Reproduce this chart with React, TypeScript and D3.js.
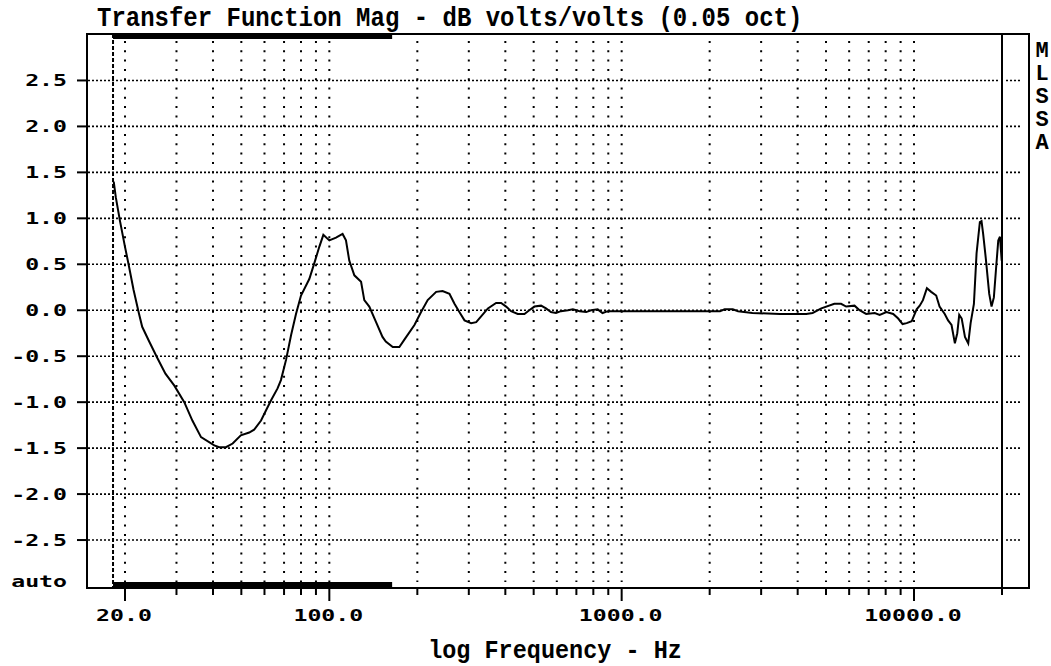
import React, { useEffect, useRef } from "react";
import * as d3 from "d3";

// curve points (Hz, dB)
const freqs = [
  18.3, 18.6, 19.2, 20.0, 20.6, 21.4, 22.3, 22.9, 24.2, 25.8, 27.5, 29.5, 31.9, 34.0, 36.4, 40.4,
  42.0, 44.3, 46.7, 49.8, 53.2, 55.3, 58.4, 60.7, 63.2, 66.5, 68.3, 71.1, 74.0, 76.9, 80.0, 85.4,
  88.8, 92.4, 95.4, 100, 105.4, 111, 114, 117, 121.8, 128.4, 131.7, 137, 144.5, 152, 156, 164.8,
  173.6, 180.6, 195.5, 206, 217, 232, 244, 257.6, 268, 278.5, 290, 305.5, 318, 330, 348.7, 372,
  387, 402.5, 418.6, 441, 465, 483, 503, 530, 551, 573, 596, 620, 655, 681, 718, 756, 786, 828,
  860, 897, 2170, 2250, 2400, 2500, 2800, 3480, 3900, 4280, 4500, 4820, 5340, 5630, 5860, 6260,
  6510, 6860, 7340, 7630, 8050, 8490, 8830, 9140, 9440, 9820, 10210, 10460, 10730, 11070, 11450,
  11910, 12230, 12740, 13080, 13440, 13800, 14060, 14280, 14560, 14940, 15330, 15620, 16030,
  16370, 16800, 17020, 17240, 17610, 18080, 18420, 18760, 19060, 19420, 19680, 19950,
];
const mags = [
  1.4, 1.23, 0.98, 0.69, 0.49, 0.22, -0.03, -0.18, -0.34, -0.52, -0.69, -0.82, -1.0, -1.2, -1.38, -1.47,
  -1.49, -1.49, -1.45, -1.36, -1.33, -1.3, -1.2, -1.09, -0.98, -0.85, -0.76, -0.54, -0.27, -0.04, 0.16, 0.34,
  0.51, 0.69, 0.82, 0.76, 0.79, 0.83, 0.76, 0.54, 0.38, 0.31, 0.11, 0.04, -0.13, -0.29, -0.34, -0.4,
  -0.4, -0.32, -0.16, -0.02, 0.11, 0.2, 0.21, 0.18, 0.07, -0.02, -0.11, -0.14, -0.13, -0.07, 0.02, 0.08,
  0.08, 0.04, -0.01, -0.04, -0.04, 0.0, 0.04, 0.05, 0.02, -0.02, -0.03, -0.01, 0.0, 0.01, -0.01, -0.02, 0.0, 0.01,
  -0.03, -0.01, -0.01, 0.01, 0.01, -0.01, -0.03, -0.04, -0.04, -0.04, -0.03, 0.02, 0.07, 0.07, 0.04, 0.05,
  0.0, -0.04, -0.03, -0.05, -0.02, -0.04, -0.09, -0.15, -0.14, -0.12, 0.01, 0.05, 0.11, 0.24, 0.2,
  0.16, 0.04, -0.04, -0.11, -0.16, -0.36, -0.25, -0.05, -0.09, -0.29, -0.36, -0.14, 0.07,
  0.62, 0.96, 0.97, 0.83, 0.56, 0.18, 0.04, 0.14, 0.43, 0.76, 0.8, 0.54,
];

const yTicks = [2.5, 2.0, 1.5, 1.0, 0.5, 0.0, -0.5, -1.0, -1.5, -2.0, -2.5];
const xGrid = [
  20, 30, 40, 50, 60, 70, 80, 90, 100, 200, 300, 400, 500, 600, 700, 800, 900, 1000,
  2000, 3000, 4000, 5000, 6000, 7000, 8000, 9000, 10000,
];
const xLabels = [20, 100, 1000, 10000];
const cursorBand = [18.2, 164];
const endFreq = 20000;
const sideLetters = ["M", "L", "S", "S", "A"];

const W = 1051;
const H = 666;
const left = 87, right = 1029, top = 34, bottom = 588;

const App = () => {
  const ref = useRef<SVGSVGElement>(null);

  useEffect(() => {
    const svg = d3.select(ref.current);
    svg.selectAll("*").remove();

    const x = d3.scaleLog().domain([20, 20000]).range([125, 1002]);
    const y = d3.scaleLinear().domain([-3, 3]).range([586, 34.5]);

    const g = svg.append("g");

    // horizontal dotted grid
    yTicks.forEach((v) => {
      g.append("line")
        .attr("x1", left + 1).attr("x2", x(endFreq) - 3)
        .attr("y1", y(v)).attr("y2", y(v))
        .attr("stroke", "#000").attr("stroke-width", 1.6)
        .attr("stroke-dasharray", "2,2");
      g.append("line")
        .attr("x1", x(endFreq) + 4).attr("x2", 1020)
        .attr("y1", y(v)).attr("y2", y(v))
        .attr("stroke", "#000").attr("stroke-width", 1.6)
        .attr("stroke-dasharray", "2,2");
      // tick mark
      g.append("line")
        .attr("x1", 77).attr("x2", left)
        .attr("y1", y(v)).attr("y2", y(v))
        .attr("stroke", "#000").attr("stroke-width", 2);
    });

    // vertical dotted grid
    xGrid.forEach((f) => {
      g.append("line")
        .attr("x1", x(f)).attr("x2", x(f))
        .attr("y1", top + 7).attr("y2", bottom - 6)
        .attr("stroke", "#000").attr("stroke-width", 2)
        .attr("stroke-dasharray", "2,7.3");
    });

    // bottom ticks
    xGrid.concat([endFreq]).forEach((f) => {
      const major = xLabels.includes(f);
      g.append("line")
        .attr("x1", x(f)).attr("x2", x(f))
        .attr("y1", bottom).attr("y2", bottom + (major ? 13 : 7))
        .attr("stroke", "#000").attr("stroke-width", 2);
    });

    // cursor dashed line and bars
    g.append("line")
      .attr("x1", x(cursorBand[0])).attr("x2", x(cursorBand[0]))
      .attr("y1", top).attr("y2", bottom)
      .attr("stroke", "#000").attr("stroke-width", 2)
      .attr("stroke-dasharray", "4,2");
    g.append("rect")
      .attr("x", x(cursorBand[0])).attr("y", top)
      .attr("width", x(cursorBand[1]) - x(cursorBand[0])).attr("height", 5);
    g.append("rect")
      .attr("x", x(cursorBand[0])).attr("y", bottom - 6)
      .attr("width", x(cursorBand[1]) - x(cursorBand[0])).attr("height", 6);

    // 20 kHz line
    g.append("line")
      .attr("x1", x(endFreq)).attr("x2", x(endFreq))
      .attr("y1", top).attr("y2", bottom)
      .attr("stroke", "#000").attr("stroke-width", 2);

    // frame
    g.append("rect")
      .attr("x", left).attr("y", top)
      .attr("width", right - left).attr("height", bottom - top)
      .attr("fill", "none").attr("stroke", "#000").attr("stroke-width", 2);

    // curve
    const pts = freqs.map((f, i) => [f, mags[i]] as [number, number]);
    const line = d3.line<[number, number]>().x((d) => x(d[0])).y((d) => y(d[1]));
    g.append("path")
      .attr("d", line(pts))
      .attr("fill", "none").attr("stroke", "#000").attr("stroke-width", 2)
      .attr("stroke-linejoin", "miter");

    // tick labels
    const lab = (tx: number, ty: number, s: string, anchor: string) =>
      g.append("text")
        .attr("transform", `translate(${tx},${ty}) scale(1.45,1)`)
        .attr("text-anchor", anchor)
        .attr("font-family", "DejaVu Sans Mono")
        .attr("font-weight", "bold")
        .attr("font-size", 16)
        .text(s);

    yTicks.forEach((v) => lab(67, y(v) + 6, v.toFixed(1), "end"));
    lab(67, y(-3) + 1, "auto", "end");
    xLabels.forEach((f) => lab(x(f) - 1, 621, f.toFixed(1), "middle"));

    // title
    g.append("text")
      .attr("transform", "translate(97,26) scale(1,1.12)")
      .attr("font-family", "Liberation Mono")
      .attr("font-weight", "bold")
      .attr("font-size", 24)
      .text("Transfer Function Mag - dB volts/volts (0.05 oct)");

    g.append("text")
      .attr("transform", "translate(555,658) scale(1,1.12)")
      .attr("text-anchor", "middle")
      .attr("font-family", "Liberation Mono")
      .attr("font-weight", "bold")
      .attr("font-size", 23.5)
      .text("log Frequency - Hz");

    sideLetters.forEach((c, i) => {
      g.append("text")
        .attr("x", 1042).attr("y", 57 + i * 23)
        .attr("text-anchor", "middle")
        .attr("font-family", "Liberation Mono")
        .attr("font-weight", "bold")
        .attr("font-size", 22)
        .text(c);
    });
  }, []);

  return (
    <svg
      ref={ref}
      width={W}
      height={H}
      style={{ position: "absolute", left: 0, top: 0, background: "#fff" }}
    ></svg>
  );
};

export default App;
